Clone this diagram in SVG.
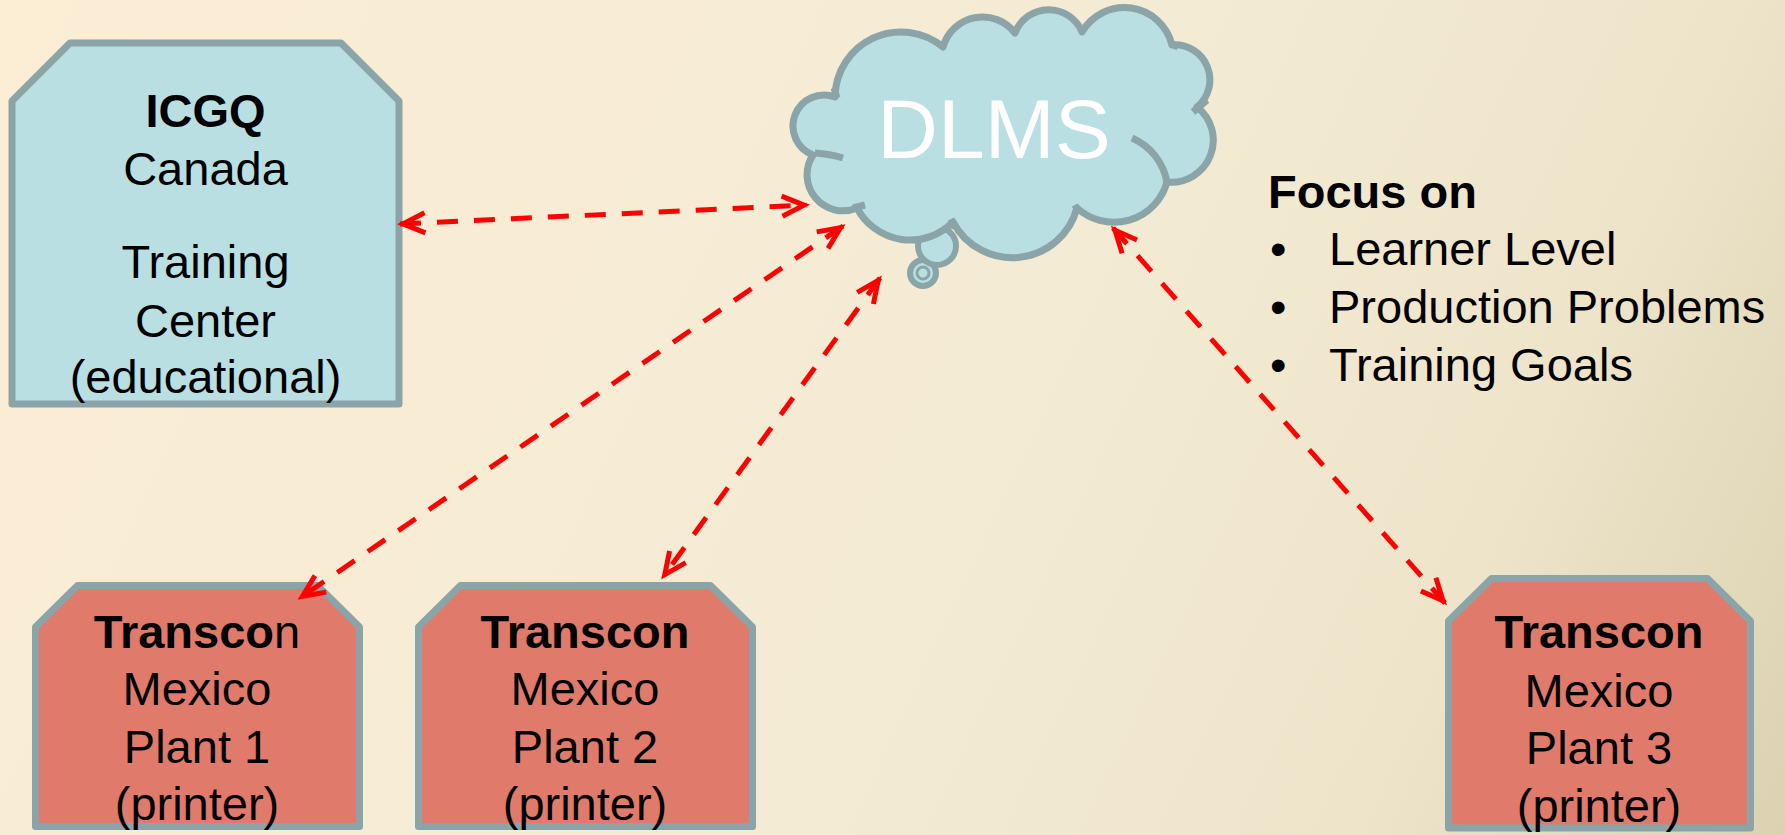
<svg xmlns="http://www.w3.org/2000/svg" width="1785" height="835" viewBox="0 0 1785 835">
<defs>
<linearGradient id="bg" x1="0" y1="0" x2="1785" y2="835" gradientUnits="userSpaceOnUse">
<stop offset="0" stop-color="#FCEDD5"/>
<stop offset="0.55" stop-color="#F4EBD4"/>
<stop offset="0.8" stop-color="#EDE4CA"/>
<stop offset="1" stop-color="#DCD2B2"/>
</linearGradient>
<marker id="arr" viewBox="-26 -14 34 28" refX="3" refY="0" markerWidth="34" markerHeight="28" markerUnits="userSpaceOnUse" orient="auto-start-reverse">
<path d="M-22,-10 L0,0 L-22,10" fill="none" stroke="#FF0000" stroke-width="5"/>
</marker>
<style>
.blue{fill:#B9DFE3;stroke:#8AA4A8;stroke-width:7;stroke-linejoin:round}
.red{fill:#E07B6B;stroke:#8AA4A8;stroke-width:7;stroke-linejoin:round}
.t{font-family:"Liberation Sans",Arial,sans-serif;font-size:47px;fill:#000;text-anchor:middle}
.b{font-weight:bold}
.lt{font-family:"Liberation Sans",Arial,sans-serif;font-size:47px;fill:#000}
.conn{fill:none;stroke:#FF0000;stroke-width:5;stroke-dasharray:21 16;marker-start:url(#arr);marker-end:url(#arr)}
.tick{fill:none;stroke:#8AA4A8;stroke-width:7}
</style>
</defs>
<rect width="1785" height="835" fill="url(#bg)"/>

<g id="icgq">
<path class="blue" d="M12,101 L70,43 L341,43 L399,101 L399,404 L12,404 Z"/>
<text class="t b" x="205.5" y="127">ICGQ</text>
<text class="t" x="205.5" y="185">Canada</text>
<text class="t" x="205.5" y="278">Training</text>
<text class="t" x="205.5" y="337">Center</text>
<text class="t" x="205.5" y="393">(educational)</text>
</g>

<g id="dlms">
<circle class="blue" cx="923" cy="273" r="13" style="stroke-width:6"/>
<circle cx="923" cy="273" r="6" fill="none" stroke="#8AA4A8" stroke-width="3"/>
<circle class="blue" cx="937" cy="246" r="19" style="stroke-width:6"/>
<path class="blue" d="M835,97 A66,66 0 0 1 943,47 A41,41 0 0 1 1015,33 A36,36 0 0 1 1082,32 A49,49 0 0 1 1172,45 A35,35 0 0 1 1197,107 A42,42 0 0 1 1167,182 A55,55 0 0 1 1077,208 A67,67 0 0 1 953,222 A60,60 0 0 1 857,208 A36,36 0 0 1 813,155 A31,31 0 0 1 835,97 Z"/>
<path class="tick" d="M1132,138 A60,60 0 0 1 1167,182"/>
<path class="tick" d="M815,153 Q830,154 843,158"/>
<path class="tick" d="M834,88 L837,98"/>
<path class="tick" d="M853,208 L865,205"/>
<path class="tick" d="M951,219 L955,228"/>
<path class="tick" d="M1075,205 L1079,213"/>
<path class="tick" d="M1193,112 L1207,100"/>
<path class="tick" d="M1170,43 L1178,47"/>
<text x="994" y="158" font-family="Liberation Sans, Arial, sans-serif" font-size="84" fill="#FFFFFF" text-anchor="middle">DLMS</text>
</g>

<g id="plant1">
<path class="red" d="M35.5,627 L77.5,585.5 L317.5,585.5 L359.5,627 L359.5,826.5 L35.5,826.5 Z"/>
<text class="t" x="197" y="648"><tspan font-weight="bold">Transco</tspan>n</text>
<text class="t" x="197" y="705">Mexico</text>
<text class="t" x="197" y="763">Plant 1</text>
<text class="t" x="197" y="820">(printer)</text>
</g>

<g id="plant2">
<path class="red" d="M418.5,627 L460.5,585.5 L710.5,585.5 L752.5,627 L752.5,826.5 L418.5,826.5 Z"/>
<text class="t b" x="585" y="648">Transcon</text>
<text class="t" x="585" y="705">Mexico</text>
<text class="t" x="585" y="763">Plant 2</text>
<text class="t" x="585" y="820">(printer)</text>
</g>

<g id="plant3">
<path class="red" d="M1448.5,621 L1491.5,578.5 L1707.5,578.5 L1750.5,621 L1750.5,828 L1448.5,828 Z"/>
<text class="t b" x="1599" y="648">Transcon</text>
<text class="t" x="1599" y="707">Mexico</text>
<text class="t" x="1599" y="764">Plant 3</text>
<text class="t" x="1599" y="822">(printer)</text>
</g>

<g id="focus">
<text class="lt b" x="1268" y="208">Focus on</text>
<text class="lt" x="1270" y="265">•</text>
<text class="lt" x="1329" y="265">Learner Level</text>
<text class="lt" x="1270" y="323">•</text>
<text class="lt" x="1329" y="323">Production Problems</text>
<text class="lt" x="1270" y="381">•</text>
<text class="lt" x="1329" y="381">Training Goals</text>
</g>

<g id="connectors">
<path class="conn" d="M400,224 L807,205"/>
<path class="conn" d="M843,226 L300,598"/>
<path class="conn" d="M880,278 L663,577"/>
<path class="conn" d="M1113,228 L1445,603"/>
</g>
</svg>
